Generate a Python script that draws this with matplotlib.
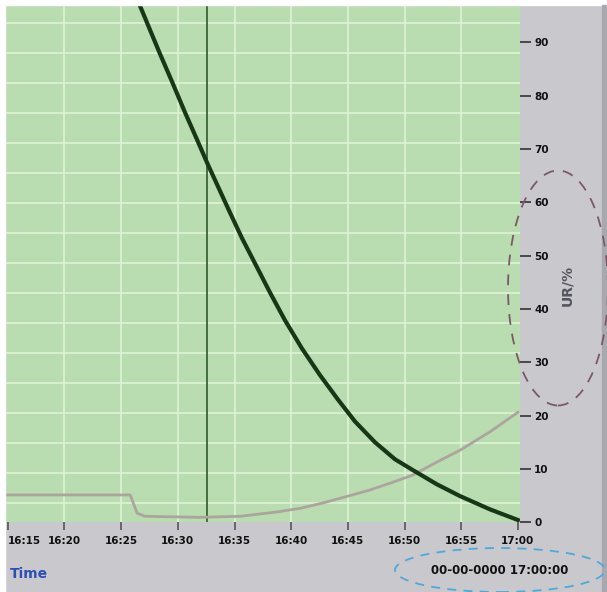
import numpy as np
import matplotlib
matplotlib.use("Agg")
import matplotlib.pyplot as plt
from matplotlib.patches import Ellipse, Rectangle

# minutes after 16:15
tick_min = [0, 5, 10, 15, 20, 25, 30, 35, 40, 45]
tick_lbl = ["16:15", "16:20", "16:25", "16:30", "16:35", "16:40", "16:45", "16:50", "16:55", "17:00"]
ur_ticks = [0, 10, 20, 30, 40, 50, 60, 70, 80, 90]

# dark curve (UR %)
ur_t = [11.65, 12.53, 13.41, 14.47, 15.62, 16.68, 17.56, 18.53, 19.59, 20.65, 21.79, 23.12,
        24.44, 25.94, 27.53, 29.12, 30.62, 32.38, 34.15, 35.74, 37.85, 39.88, 42.53, 45.0]
ur_v = [96.9, 92.4, 87.9, 82.7, 76.9, 71.8, 67.5, 63.0, 58.1, 53.3, 48.6, 43.1,
        37.9, 32.6, 27.6, 23.0, 18.9, 15.0, 11.8, 9.75, 7.1, 4.9, 2.4, 0.4]

# light curve
tp_t = [-0.3, 10.8, 11.4, 12.1, 16.9, 20.5, 23.7, 25.8, 27.8, 29.7, 31.9, 33.7, 35.7,
        37.7, 39.9, 42.5, 45.0]
tp_v = [5.1, 5.1, 1.7, 1.1, 0.9, 1.1, 1.9, 2.6, 3.6, 4.7, 6.0, 7.3, 8.8,
        11.1, 13.5, 16.9, 20.6]

cursor_t = 17.56

fig = plt.figure(figsize=(6.07, 5.92), dpi=100)
fig.patch.set_facecolor("#c9c8cd")
# white margin top/left, darker right edge
fig.patches.append(Rectangle((0, 0.9916), 1, 0.01, transform=fig.transFigure, color="white", zorder=0))
fig.patches.append(Rectangle((0, 0), 0.008, 1, transform=fig.transFigure, color="white", zorder=0))
fig.patches.append(Rectangle((0.992, 0), 0.01, 0.9916, transform=fig.transFigure, color="#a9a8ae", zorder=0))

ax = fig.add_axes([0.008, 0.118, 0.849, 0.8736])
ax.set_facecolor("#b9dcb1")
ax.set_xlim(-0.26, 45.2)
ax.set_ylim(0, 97)

# grid
grid_y = (522 - np.arange(23, 504, 30)) / 5.333
for gy in grid_y:
    ax.axhline(gy, color="#dbf2d3", lw=1.3, zorder=1)
for gx in tick_min[1:-1]:
    ax.axvline(gx, color="#dbf2d3", lw=1.3, zorder=1)

ax.axvline(cursor_t, color="#2f5a2f", lw=1.2, zorder=2)
ax.plot(tp_t, tp_v, color="#aca59e", lw=2, zorder=3)
ax.plot(ur_t, ur_v, color="#173717", lw=3, zorder=4)

for s in ax.spines.values():
    s.set_visible(False)

ax.yaxis.tick_right()
ax.set_yticks(ur_ticks)
ax.set_yticklabels([str(v) for v in ur_ticks], fontsize=7.5, fontweight="bold", color="#111111")
ax.tick_params(axis="y", direction="out", length=8, width=1.2, color="#333333", pad=2)
ax.set_xticks(tick_min)
ax.set_xticklabels(tick_lbl, fontsize=7.5, fontweight="bold", color="#111111")
ax.tick_params(axis="x", direction="out", length=6, width=1.2, color="#555555", pad=4)
ax.get_xticklabels()[0].set_horizontalalignment("left")

fig.text(567 / 607, 1 - 285 / 592, "UR/%", rotation=90, ha="center", va="center",
         fontsize=10, color="#55555f", fontweight="bold")
fig.text(10 / 607, 1 - 574 / 592, "Time", ha="left", va="center",
         fontsize=10, color="#2d4fb4", fontweight="bold")
fig.text(500 / 607, 1 - 571 / 592, "00-00-0000 17:00:00", ha="center", va="center",
         fontsize=8.5, color="#111111", fontweight="bold")

fig.add_artist(Ellipse((500 / 607, 1 - 570 / 592), 210 / 607, 44 / 592, transform=fig.transFigure,
                       fill=False, ls=(0, (5, 4)), lw=1.3, ec="#4fa8d8"))
fig.add_artist(Ellipse((558 / 607, 1 - 288 / 592), 100 / 607, 235 / 592, transform=fig.transFigure,
                       fill=False, ls=(0, (6, 5)), lw=1.3, ec="#7a5868"))

fig.savefig("out.png", dpi=100, facecolor=fig.get_facecolor())
